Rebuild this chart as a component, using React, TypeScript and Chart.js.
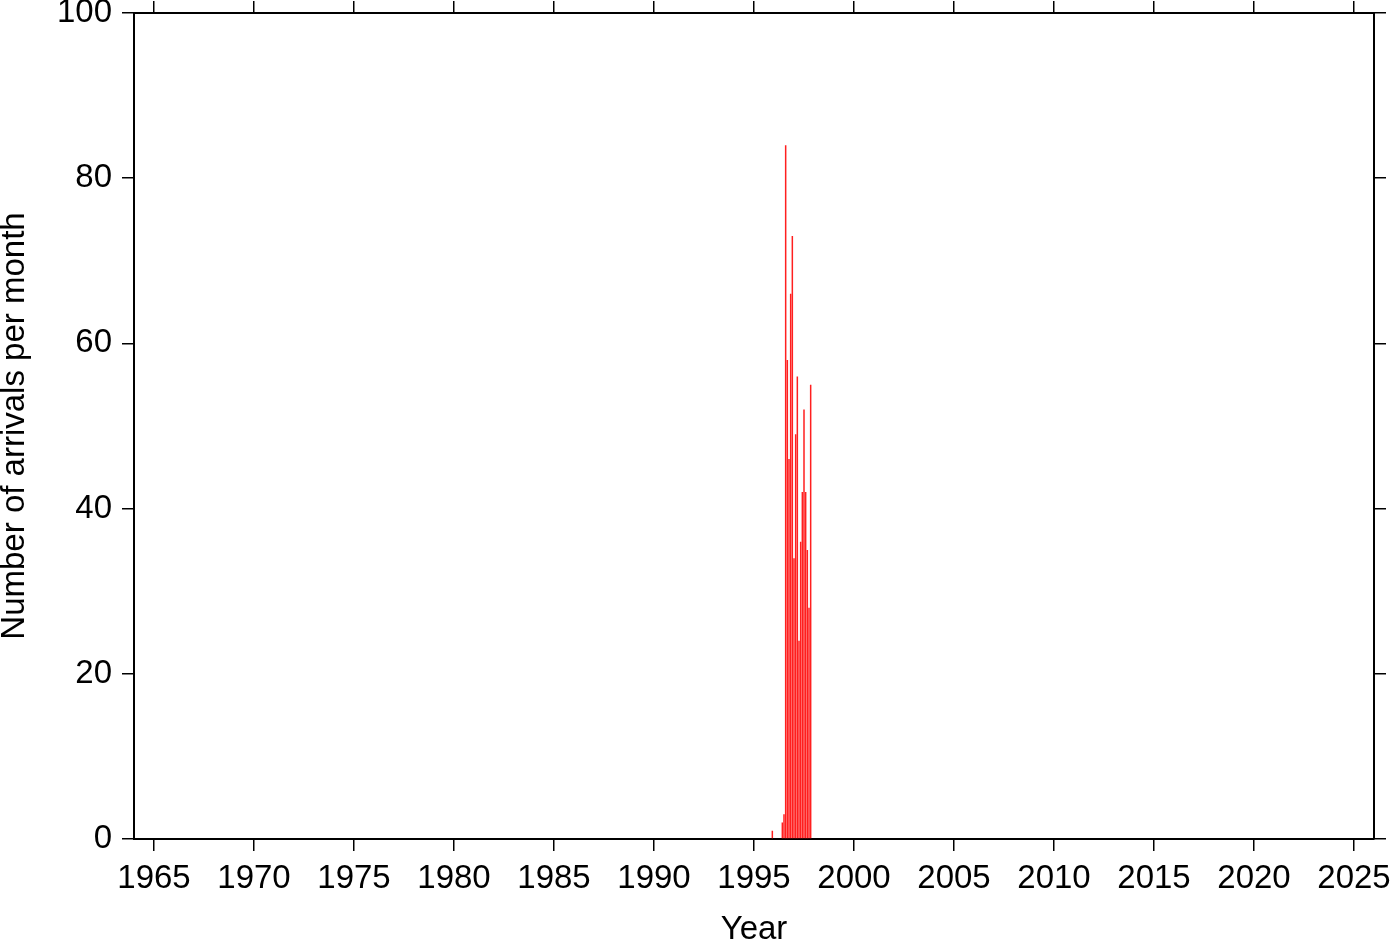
import { useEffect, useRef } from "react";
import { Chart, registerables } from "chart.js";

Chart.register(...registerables);

// Monthly bins (year, month) and number of arrivals
const binYears = [1995, 1995, 1996, 1996, 1996, 1996, 1996, 1996, 1996, 1996, 1996, 1996, 1996, 1996, 1997, 1997, 1997, 1997, 1997, 1997, 1997, 1997, 1997, 1997];
const binMonths = [11, 12, 1, 2, 3, 4, 5, 6, 7, 8, 9, 10, 11, 12, 1, 2, 3, 4, 5, 6, 7, 8, 9, 10];
const arrivals = [1, 0, 0, 0, 0, 0, 2, 3, 84, 58, 46, 66, 73, 34, 49, 56, 24, 36, 42, 52, 42, 35, 28, 55];

const yearTicks = [1965, 1970, 1975, 1980, 1985, 1990, 1995, 2000, 2005, 2010, 2015, 2020, 2025];
const countTicks = [0, 20, 40, 60, 80, 100];
const xMin = 1964;
const xMax = 2026;
const yMin = 0;
const yMax = 100;

const FONT = "'Liberation Sans', Arial, Helvetica, sans-serif";

export default function App() {
  const ref = useRef<HTMLCanvasElement | null>(null);

  useEffect(() => {
    if (!ref.current) return;
    // each bar is placed at the end of its month bin
    const points = arrivals.map((v, i) => ({
      x: binYears[i] + binMonths[i] / 12,
      y: v,
    }));
    const gridCommon = {
      drawOnChartArea: false,
      drawTicks: true,
      tickLength: 12,
      color: "#000",
      lineWidth: 1.5,
    };
    const borderCommon = { display: true, color: "#000", width: 2 };
    const noPad = (s: any) => {
      s.paddingTop = 0;
      s.paddingBottom = 0;
      s.paddingLeft = 0;
      s.paddingRight = 0;
    };
    const chart = new Chart(ref.current, {
      type: "bar",
      data: {
        datasets: [
          {
            data: points,
            backgroundColor: "#ff1f1f",
            borderWidth: 0,
            barPercentage: 0.9,
            categoryPercentage: 1,
            xAxisID: "x",
            yAxisID: "y",
          },
        ],
      },
      options: {
        responsive: false,
        animation: false,
        layout: { padding: 0, autoPadding: false },
        plugins: { legend: { display: false }, tooltip: { enabled: false } },
        scales: {
          x: {
            type: "linear",
            position: "bottom",
            min: xMin,
            max: xMax,
            offset: false,
            grid: { ...gridCommon, offset: false },
            border: borderCommon,
            afterBuildTicks: (s: any) => {
              s.ticks = yearTicks.map((v) => ({ value: v }));
            },
            afterFit: (s: any) => {
              s.height = 103;
              noPad(s);
            },
            ticks: {
              color: "#000",
              font: { family: FONT, size: 33 },
              padding: 8,
              maxRotation: 0,
              autoSkip: false,
              callback: (v: any) => String(v),
            },
            title: {
              display: true,
              text: "Year",
              color: "#000",
              font: { family: FONT, size: 33, lineHeight: 0.75 },
              padding: { top: 0, bottom: 0 },
            },
          },
          xTop: {
            type: "linear",
            position: "top",
            min: xMin,
            max: xMax,
            offset: false,
            grid: { ...gridCommon, offset: false },
            border: borderCommon,
            afterBuildTicks: (s: any) => {
              s.ticks = yearTicks.map((v) => ({ value: v }));
            },
            afterFit: (s: any) => {
              s.height = 13;
              noPad(s);
            },
            ticks: { display: false },
          },
          y: {
            type: "linear",
            position: "left",
            min: yMin,
            max: yMax,
            grid: gridCommon,
            border: borderCommon,
            afterBuildTicks: (s: any) => {
              s.ticks = countTicks.map((v) => ({ value: v }));
            },
            afterFit: (s: any) => {
              s.width = 134;
              noPad(s);
            },
            ticks: {
              color: "#000",
              font: { family: FONT, size: 33 },
              padding: 10,
            },
            title: {
              display: true,
              text: "Number of arrivals per month",
              color: "#000",
              font: { family: FONT, size: 33, lineHeight: 0.9 },
              padding: { top: 0, bottom: 0 },
            },
          },
          yRight: {
            type: "linear",
            position: "right",
            min: yMin,
            max: yMax,
            grid: gridCommon,
            border: borderCommon,
            afterBuildTicks: (s: any) => {
              s.ticks = countTicks.map((v) => ({ value: v }));
            },
            afterFit: (s: any) => {
              s.width = 26;
              noPad(s);
            },
            ticks: { display: false },
          },
        },
      },
    });
    return () => chart.destroy();
  }, []);

  return (
    <canvas
      ref={ref}
      width={1400}
      height={942}
      style={{ position: "absolute", left: 0, top: 0, display: "block" }}
    />
  );
}
